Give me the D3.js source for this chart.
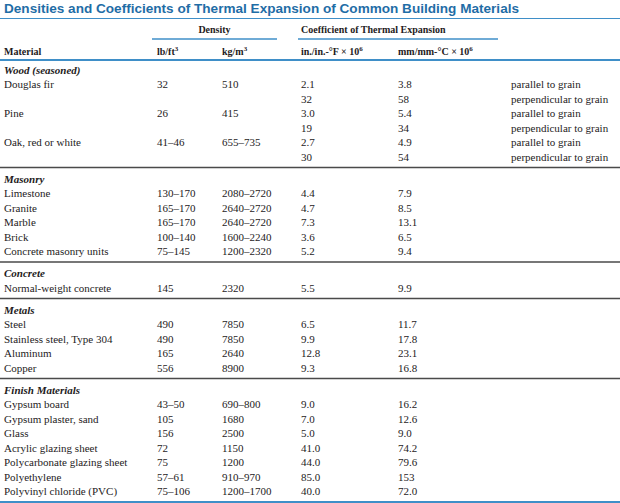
<!DOCTYPE html>
<html><head><meta charset="utf-8">
<script src="https://cdn.jsdelivr.net/npm/d3@7"></script>
<style>html,body{margin:0;padding:0;background:#fff;}</style>
</head><body>
<svg id="c" width="620" height="503"></svg>
<script>
const title = "Densities and Coefficients of Thermal Expansion of Common Building Materials";
const groupHeaders = ["Density", "Coefficient of Thermal Expansion"];
const columnKeys = ["material", "lb", "kg", "f", "c", "note"];
const sections = ["Wood (seasoned)", "Masonry", "Concrete", "Metals", "Finish Materials"];
const rowSection = [0,0,0,0,0,0, 1,1,1,1,1, 2, 3,3,3,3, 4,4,4,4,4,4,4];
const materials = ["Douglas fir","","Pine","","Oak, red or white","",
  "Limestone","Granite","Marble","Brick","Concrete masonry units",
  "Normal-weight concrete",
  "Steel","Stainless steel, Type 304","Aluminum","Copper",
  "Gypsum board","Gypsum plaster, sand","Glass","Acrylic glazing sheet","Polycarbonate glazing sheet","Polyethylene","Polyvinyl chloride (PVC)"];
const densityLbFt3 = ["32","","26","","41–46","",
  "130–170","165–170","165–170","100–140","75–145",
  "145",
  "490","490","165","556",
  "43–50","105","156","72","75","57–61","75–106"];
const densityKgM3 = ["510","","415","","655–735","",
  "2080–2720","2640–2720","2640–2720","1600–2240","1200–2320",
  "2320",
  "7850","7850","2640","8900",
  "690–800","1680","2500","1150","1200","910–970","1200–1700"];
const coefF = ["2.1","32","3.0","19","2.7","30",
  "4.4","4.7","7.3","3.6","5.2",
  "5.5",
  "6.5","9.9","12.8","9.3",
  "9.0","7.0","5.0","41.0","44.0","85.0","40.0"];
const coefC = ["3.8","58","5.4","34","4.9","54",
  "7.9","8.5","13.1","6.5","9.4",
  "9.9",
  "11.7","17.8","23.1","16.8",
  "16.2","12.6","9.0","74.2","79.6","153","72.0"];
const notes = ["parallel to grain","perpendicular to grain","parallel to grain","perpendicular to grain","parallel to grain","perpendicular to grain",
  "","","","","","","","","","","","","","","","",""];

const svg = d3.select("#c");
const W = 620;
const blue = "#3f8fc8";
const ink = "#1e1b1c";
const serif = "'Liberation Serif', 'Times New Roman', serif";

// build rows
const rows = [];
let prev = -1;
rowSection.forEach((s, i) => {
  if (s !== prev) { rows.push({type: "section", s, label: sections[s]}); prev = s; }
  rows.push({type: "data", s, i});
});
const x = d3.scaleOrdinal().domain(columnKeys).range([4, 157, 222, 301, 398, 511]);
const yBase = d3.scaleLinear().domain([0, rows.length - 1]).range([70, 70 + (rows.length - 1) * 14.5]);
const sectionGap = 7.5;
const y = (k) => yBase(k) + rows[k].s * sectionGap;

// title
svg.append("text").attr("x", 4).attr("y", 13)
  .attr("font-family", "'Liberation Sans', Arial, sans-serif").attr("font-weight", 700)
  .attr("font-size", 13.5).attr("fill", "#1f6da6")
  .attr("textLength", 515).attr("lengthAdjust", "spacingAndGlyphs").text(title);
svg.append("line").attr("x1", 0).attr("x2", W).attr("y1", 18.5).attr("y2", 18.5)
  .attr("stroke", blue).attr("stroke-width", 1.2);

// header
const hdr = svg.append("g").attr("font-family", serif).attr("font-weight", 700)
  .attr("font-size", 10).attr("fill", ink);
hdr.append("text").attr("x", (152 + 277) / 2).attr("y", 33).attr("text-anchor", "middle").text(groupHeaders[0]);
hdr.append("text").attr("x", x("f")).attr("y", 33).text(groupHeaders[1]);
svg.append("line").attr("x1", 152).attr("x2", 277).attr("y1", 39).attr("y2", 39).attr("stroke", blue).attr("stroke-width", 1.5);
svg.append("line").attr("x1", 298).attr("x2", 498).attr("y1", 39).attr("y2", 39).attr("stroke", blue).attr("stroke-width", 1.5);

function sup(sel, base, s, rest) {
  sel.append("tspan").text(base);
  sel.append("tspan").attr("baseline-shift", "super").attr("font-size", "70%").text(s);
  if (rest) sel.append("tspan").text(rest);
}
hdr.append("text").attr("x", x("material")).attr("y", 55).text("Material");
sup(hdr.append("text").attr("x", x("lb")).attr("y", 55), "lb/ft", "3");
sup(hdr.append("text").attr("x", x("kg")).attr("y", 55), "kg/m", "3");
sup(hdr.append("text").attr("x", x("f")).attr("y", 55), "in./in.-°F × 10", "6");
sup(hdr.append("text").attr("x", x("c")).attr("y", 55), "mm/mm-°C × 10", "6");
svg.append("line").attr("x1", 0).attr("x2", W).attr("y1", 60).attr("y2", 60).attr("stroke", blue).attr("stroke-width", 2);

// body
const body = svg.append("g").attr("font-family", serif).attr("font-size", 11).attr("fill", ink);
rows.forEach((r, k) => {
  const yy = y(k) + 3.8;
  if (r.type === "section") {
    body.append("text").attr("x", x("material")).attr("y", yy)
      .attr("font-weight", 700).attr("font-style", "italic").text(r.label);
  } else {
    const i = r.i;
    const vals = {material: materials[i], lb: densityLbFt3[i], kg: densityKgM3[i], f: coefF[i], c: coefC[i], note: notes[i]};
    columnKeys.forEach(key => {
      if (vals[key]) body.append("text").attr("x", x(key)).attr("y", yy).text(vals[key]);
    });
  }
});
// dividers
rows.forEach((r, k) => {
  const last = k === rows.length - 1;
  if (last || rows[k + 1].s !== r.s) {
    svg.append("line").attr("x1", 0).attr("x2", W)
      .attr("y1", y(k) + 10.5).attr("y2", y(k) + 10.5)
      .attr("stroke", last ? blue : "#4a4a4a").attr("stroke-width", last ? 2 : 1.5);
  }
});
</script>
</body></html>
